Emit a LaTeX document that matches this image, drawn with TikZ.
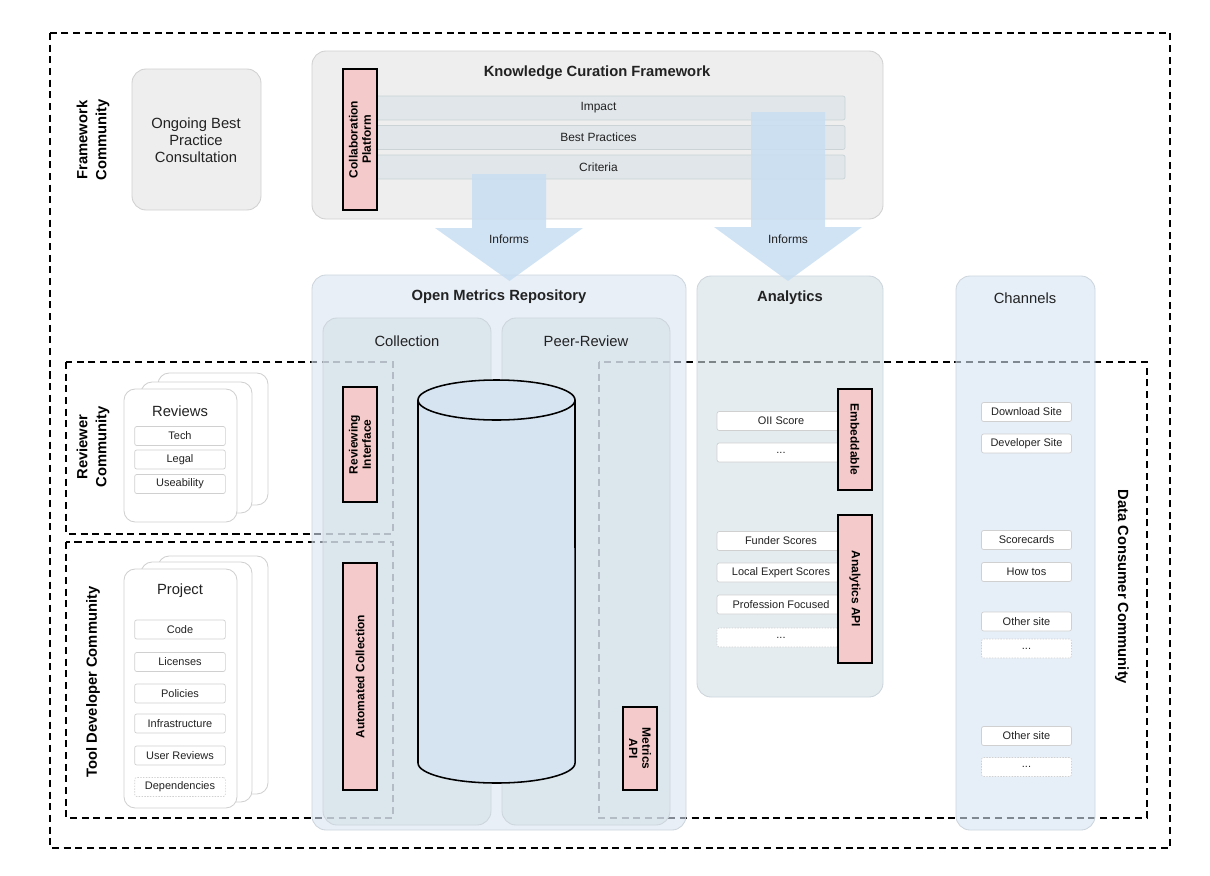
\documentclass[tikz,border=0pt]{standalone}
\usepackage{fontspec}
\setmainfont{Liberation Sans}
\usetikzlibrary{calc}

\definecolor{paneline}{HTML}{CDD5DC}
\definecolor{greyfill}{HTML}{EEEEEE}
\definecolor{greyline}{HTML}{D0D0D0}
\definecolor{rowfill}{HTML}{E0E6E9}
\definecolor{rowline}{HTML}{CBD3D7}
\definecolor{pinkfill}{HTML}{F4CACA}
\definecolor{omrfill}{RGB}{217,228,242}
\definecolor{subfill}{RGB}{212,224,232}
\definecolor{anafill}{RGB}{210,223,228}
\definecolor{chanfill}{RGB}{213,227,243}
\definecolor{informblue}{RGB}{200,222,242}
\definecolor{cylfill}{RGB}{214,227,240}
\definecolor{tagline}{HTML}{D0D0D0}
\definecolor{inkgrey}{HTML}{222222}

\tikzset{
  zone/.style={draw=black,line width=1.1pt,dash pattern=on 5pt off 3.3pt},
  greybox/.style={fill=greyfill,draw=greyline,line width=0.6pt,rounded corners=10pt},
  panel/.style={fill=#1,fill opacity=0.6,draw=paneline,line width=0.6pt,rounded corners=10pt},
  card/.style={fill=white,draw=greyline,line width=0.6pt,rounded corners=8pt},
  rowbar/.style={fill=rowfill,draw=rowline,line width=0.5pt,rounded corners=1.5pt,minimum width=350.7pt,minimum height=17pt,inner sep=0pt,font=\fontsize{8.5}{10}\selectfont,text=inkgrey},
  pinkbox/.style={fill=pinkfill,draw=black,line width=1pt,minimum height=24.2pt,inner sep=0pt,align=center,font=\fontsize{8.5}{9.4}\selectfont\bfseries},
  chip/.style={fill=white,draw=tagline,line width=0.5pt,rounded corners=1.5pt,minimum width=#1,minimum height=13.5pt,inner sep=0pt,font=\fontsize{7.8}{9}\selectfont,text=inkgrey},
  chip/.default=64.5pt,
  dotchip/.style={chip=#1,dash pattern=on 1pt off 1pt},
  dotchip/.default=64.5pt,
  inform/.style={fill=informblue,fill opacity=0.85},
  cyl/.style={fill=cylfill,draw=black,line width=1.1pt},
  head/.style={font=\fontsize{10.5}{12.6}\selectfont\bfseries,text=inkgrey},
  bodytext/.style={font=\fontsize{10.5}{12.2}\selectfont,text=inkgrey,align=center},
  small/.style={font=\fontsize{8.5}{10}\selectfont,text=inkgrey},
  community/.style={font=\fontsize{10.5}{13.5}\selectfont\bfseries,align=center}
}

\begin{document}
\begin{tikzpicture}[x=0.025cm,y=-0.025cm]
\useasboundingbox (0,0) rectangle (1210,875);

% community zones
\draw[zone] (50,33) rectangle (1170,848);
\draw[zone] (66,362) rectangle (393,534);
\draw[zone] (66,542) rectangle (393,818);
\draw[zone] (599,362) rectangle (1147,818);

\node[community,rotate=90] (fwcomm) at (93,140) {Framework\\Community};
\node[community,rotate=90] (revcomm) at (93,447) {Reviewer\\Community};
\node[community,rotate=90] (toolcomm) at (93,682) {Tool Developer Community};
\node[community,rotate=-90] (datacomm) at (1122,587) {Data Consumer Community};

% framework
\draw[greybox] (132,69) rectangle (261,210);
\node[bodytext] (ongoing) at (196,140) {Ongoing Best\\Practice\\Consultation};

\draw[greybox] (312,51) rectangle (883,219);
\node[head] (kcf) at (597,73) {Knowledge Curation Framework};
\node[rowbar] (impact) at (598.5,108) {Impact};
\node[rowbar] (bestpr) at (598.5,137.5) {Best Practices};
\node[rowbar] (criteria) at (598.5,167) {Criteria};
\node[pinkbox,rotate=90,minimum width=100.3pt] (collab) at (360,139.5) {Collaboration\\Platform};

% panels
\draw[panel=omrfill] (312,275) rectangle (686,830);
\draw[panel=subfill] (323,318) rectangle (491,825);
\draw[panel=subfill] (502,318) rectangle (670,825);
\draw[panel=anafill] (697,276) rectangle (883,697);
\draw[panel=chanfill] (956,276) rectangle (1095,830);

\node[head] (omr) at (499,297) {Open Metrics Repository};
\node[bodytext] (collection) at (407,341) {Collection};
\node[bodytext] (peer) at (586,341) {Peer-Review};
\node[head] (analytics) at (790,298) {Analytics};
\node[bodytext] (channels) at (1025,298) {Channels};

% informs arrows
\coordinate (tipL) at (509.5,281);
\coordinate (tipR) at (788,281);
\fill[inform] (472,174) -- (546,174) -- (546,228) -- (583,228) -- (tipL) -- (435,228) -- (472,228) -- cycle;
\fill[inform] (751,112) -- (825,112) -- (825,227) -- (862,227) -- (tipR) -- (714,227) -- (751,227) -- cycle;
\node[small] (informL) at (509,239) {Informs};
\node[small] (informR) at (788,239) {Informs};

% repository store
\draw[cyl] (418,400) -- (418,763) arc[start angle=180,end angle=360,x radius=1.9625cm,y radius=0.5cm] -- (575,400);
\draw[cyl] (496.5,400) ellipse [x radius=1.9625cm,y radius=0.5cm];

\node[pinkbox,rotate=90,minimum width=81.8pt] (revint) at (360,444.5) {Reviewing\\Interface};
\node[pinkbox,rotate=90,minimum width=161.5pt] (autocoll) at (360,676.5) {Automated Collection};
\node[pinkbox,rotate=-90,minimum width=59pt] (metapi) at (640,748.5) {Metrics\\API};

% analytics
\node[chip=91pt] (oii) at (781,421) {OII Score};
\node[chip=91pt] (anamore) at (781,452.5) {...};
\node[chip=91pt] (funder) at (781,541) {Funder Scores};
\node[chip=91pt] (local) at (781,572.5) {Local Expert Scores};
\node[chip=91pt] (profession) at (781,604.5) {Profession Focused};
\node[dotchip=91pt] (apimore) at (781,637.5) {...};
\node[pinkbox,rotate=-90,minimum width=71.8pt] (embed) at (855,439.5) {Embeddable};
\node[pinkbox,rotate=-90,minimum width=105.3pt] (anaapi) at (855,589) {Analytics API};

% channels
\node[chip=64pt] (download) at (1026.5,412) {Download Site};
\node[chip=64pt] (devsite) at (1026.5,443.5) {Developer Site};
\node[chip=64pt] (scorecards) at (1026.5,540) {Scorecards};
\node[chip=64pt] (howtos) at (1026.5,572) {How tos};
\node[chip=64pt] (othera) at (1026.5,621.5) {Other site};
\node[dotchip=64pt] (morea) at (1026.5,648.5) {...};
\node[chip=64pt] (otherb) at (1026.5,736) {Other site};
\node[dotchip=64pt] (moreb) at (1026.5,767) {...};

% reviewer cards
\draw[card] (158,373) rectangle (268,505);
\draw[card] (141,382) rectangle (252,513);
\draw[card] (124,389) rectangle (237,522);
\node[bodytext] (reviews) at (180,411.5) {Reviews};
\node[chip] (tech) at (180,436) {Tech};
\node[chip] (legal) at (180,459.5) {Legal};
\node[chip] (useab) at (180,484) {Useability};

% tool developer cards
\draw[card] (158,556) rectangle (268,794);
\draw[card] (141,562) rectangle (252,802);
\draw[card] (124,569) rectangle (237,808);
\node[bodytext] (project) at (180,591) {Project};
\node[chip] (code) at (180,629.5) {Code};
\node[chip] (licenses) at (180,662) {Licenses};
\node[chip] (policies) at (180,693.5) {Policies};
\node[chip] (infra) at (180,723.5) {Infrastructure};
\node[chip] (userrev) at (180,755.5) {User Reviews};
\node[dotchip] (depend) at (180,787) {Dependencies};

\end{tikzpicture}
\end{document}
